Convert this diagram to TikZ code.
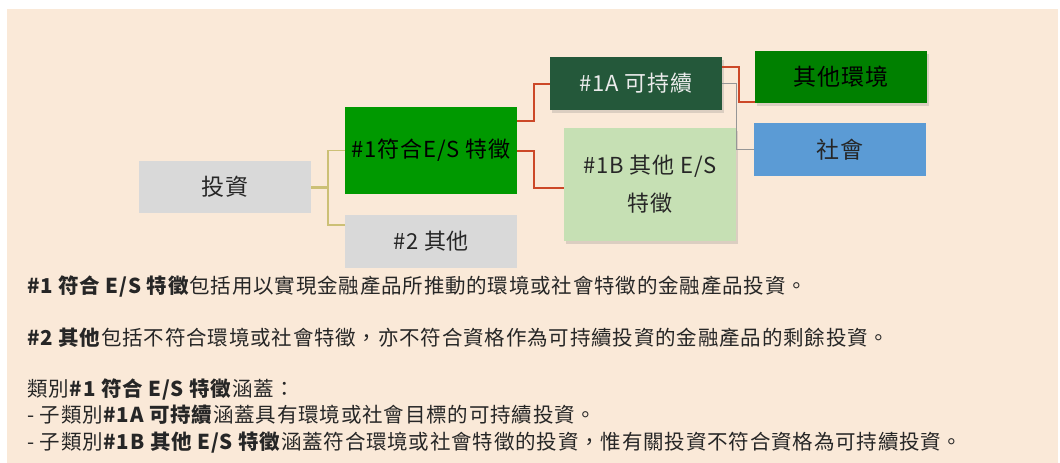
\documentclass[tikz,border=0pt]{standalone}
\usepackage{fontspec}
\setmainfont{Noto Sans CJK TC}[LetterSpace=4]
\usetikzlibrary{shadows}
\definecolor{bgbeige}{RGB}{250,233,216}
\definecolor{boxgray}{RGB}{217,217,217}
\definecolor{esgreen}{RGB}{0,153,0}
\definecolor{sustgreen}{RGB}{36,88,58}
\definecolor{envgreen}{RGB}{0,128,0}
\definecolor{othergreen}{RGB}{198,224,180}
\definecolor{socblue}{RGB}{91,155,213}
\definecolor{linkolive}{RGB}{204,192,118}
\definecolor{linkred}{RGB}{204,72,40}
\definecolor{linkgray}{RGB}{150,150,150}
\definecolor{txtgray}{RGB}{38,38,38}
\newcommand {\catbox}[5] {\node[catnode, fill=#1, minimum height=#4] (#2) at (#3) {#5};}
\newcommand {\note}[3] {\node[notenode] (#1) at (27,#2) {#3};}

\begin{document}
\begin{tikzpicture}[x=1pt, y=-1pt,
	catnode/.style={minimum width=172pt, inner sep=0pt, align=center,
		font=\fontsize{22}{38}\selectfont, text=txtgray},
	shadowed/.style={drop shadow={shadow xshift=2pt, shadow yshift=-3pt, opacity=0.25}},
	notenode/.style={anchor=west, inner sep=0pt, font=\fontsize{20.5}{24}\selectfont, text=txtgray}]
	\useasboundingbox (0,0) rectangle (1060,463);
	\fill[bgbeige] (7,9) rectangle (1058,463);
	% tree
	\catbox{boxgray}{inv}{225,187}{52pt}{\fontsize{23}{28}\selectfont 投資}
	\catbox{esgreen}{es}{431,150.5}{87pt}{\color{black}\#1符合E/S 特徵}
	\catbox{boxgray}{rest}{431,241.5}{53pt}{\#2 其他}
	\node[catnode, fill=sustgreen, minimum height=53pt, shadowed, text=white!92!black] (sust) at (636,83.5) {\#1A 可持續};
	\node[catnode, fill=othergreen, minimum height=113pt, shadowed] (ores) at (650,184.5) {\#1B 其他 E/S\\特徵};
	\node[catnode, fill=envgreen, minimum height=52pt, shadowed, text=black, font=\fontsize{23}{28}\selectfont] (env) at (841,77) {其他環境};
	\catbox{socblue}{soc}{840,149.5}{53pt}{\fontsize{23}{28}\selectfont 社會}
	% links
	\coordinate (bus) at (328,187);
	\draw[linkolive, line width=3pt] (inv.east) -- (bus);
	\draw[linkolive, line width=1.5pt] (bus) |- (es.west);
	\draw[linkolive, line width=1.5pt] (bus) |- (rest.west |- 0,225);
	\draw[linkred, line width=2pt] ([yshift=29.5pt]es.east) -- ++(17,0) |- (sust.west);
	\draw[linkred, line width=2pt] (es.east) -- ++(17,0) |- ([yshift=-3.5pt]ores.west);
	\draw[linkred, line width=2pt] ([yshift=16.5pt]sust.east) -- ++(17,0) |- ([yshift=1pt]env.south west);
	\draw[linkgray, line width=1.2pt] (sust.east) -- ++(14,0) |- (soc.west);
	% notes
	\note{n1}{287}{\textbf{\#1 符合 E/S 特徵}包括用以實現金融產品所推動的環境或社會特徵的金融產品投資。}
	\note{n2}{338}{\textbf{\#2 其他}包括不符合環境或社會特徵，亦不符合資格作為可持續投資的金融產品的剩餘投資。}
	\note{n3}{390}{類別\textbf{\#1 符合 E/S 特徵}涵蓋：}
	\note{n4}{415}{- 子類別\textbf{\#1A 可持續}涵蓋具有環境或社會目標的可持續投資。}
	\note{n5}{443}{- 子類別\textbf{\#1B 其他 E/S 特徵}涵蓋符合環境或社會特徵的投資，惟有關投資不符合資格為可持續投資。}
\end{tikzpicture}
\end{document}
